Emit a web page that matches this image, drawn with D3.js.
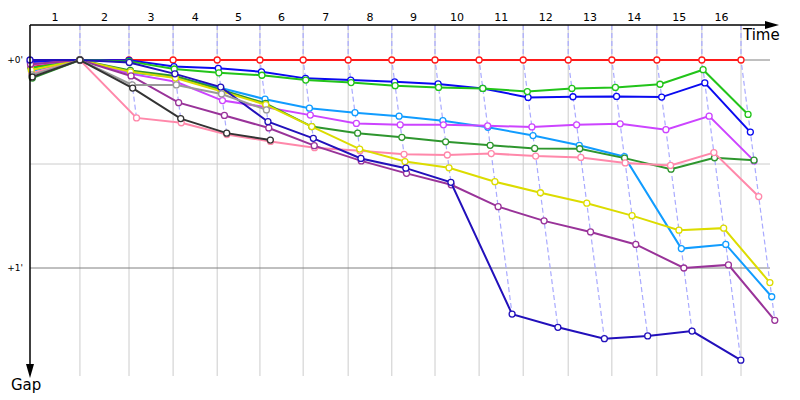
<!DOCTYPE html>
<html>
<head>
<meta charset="utf-8">
<script src="https://cdn.jsdelivr.net/npm/d3@7"></script>
<style>
  body { margin: 0; background: #fff; }
  text { font-family: "DejaVu Sans", Verdana, sans-serif; }
</style>
</head>
<body>
<div id="wrapper"></div>
<script>
// lap labels and gap ticks
const lapLabels = ["1", "2", "3", "4", "5", "6", "7", "8", "9", "10", "11", "12", "13", "14", "15", "16"]
const gapTicks = [0, 60]
const gapTickLabels = ["+0'", "+1'"]
const minorGapTicks = [30]

// leader time (s) at each lap line
const leaderTimes = [0, 111, 220, 318, 416, 511, 607, 707, 804, 900, 998, 1096, 1196, 1293, 1393, 1493, 1580]

// gap to leader (s) at each lap line, per driver
const redGaps = [2.0, 0, 0, 0, 0, 0, 0, 0, 0, 0, 0, 0, 0, 0, 0, 0, 0]
const blueGaps = [0.6, 0, 0.1, 1.9, 2.4, 3.4, 5.3, 5.8, 6.3, 6.9, 8.2, 10.8, 10.6, 10.5, 10.7, 6.6, 20.8]
const limeGaps = [2.3, 0, 0.4, 2.6, 3.7, 4.4, 5.8, 6.5, 7.4, 7.9, 8.2, 9.1, 8.2, 7.9, 7.0, 2.8, 15.7]
const skyGaps = [3.2, 0, 3.7, 4.9, 8.1, 11.3, 13.9, 15.2, 16.2, 17.5, 19.4, 21.8, 24.6, 27.9, 54.4, 53.2, 68.3]
const violetGaps = [1.4, 0, 4.0, 6.3, 11.7, 13.6, 15.9, 18.3, 18.7, 18.7, 19.0, 19.3, 18.7, 18.4, 20.1, 16.2, 29.1]
const darkGreenGaps = [5.2, 0, 3.0, 4.6, 8.6, 12.5, 19.2, 21.1, 22.3, 23.6, 24.6, 25.5, 25.6, 28.3, 31.5, 28.2, 28.9]
const pinkGaps = [3.8, 0, 16.7, 18.1, 21.5, 23.5, 25.3, 26.2, 27.2, 27.4, 27.0, 27.7, 28.1, 29.7, 30.4, 26.7, 39.4]
const yellowGaps = [2.9, 0, 3.4, 5.2, 9.0, 12.9, 19.2, 25.7, 29.3, 31.1, 35.1, 38.3, 41.3, 44.9, 49.1, 48.5, 64.2]
const purpleGaps = [1.2, 0, 4.6, 12.3, 16.0, 19.6, 24.7, 29.1, 32.7, 36.0, 42.3, 46.4, 49.6, 53.2, 60.0, 59.1, 75.1]
const navyGaps = [0, 0, 0.7, 4.0, 7.8, 17.8, 22.6, 28.4, 31.2, 35.3, 73.3, 77.1, 80.4, 79.6, 78.2, 86.6]
const grayGaps = [4.3, 0, 7.2, 7.2, 9.8, 14.4]
const blackGaps = [4.9, 0, 8.1, 16.9, 21.1, 23.1]

const drivers = [
  { color: "#ff1a1a", gaps: redGaps },
  { color: "#0a0af0", gaps: blueGaps },
  { color: "#22c41a", gaps: limeGaps },
  { color: "#119cff", gaps: skyGaps },
  { color: "#cc44ff", gaps: violetGaps },
  { color: "#2e962e", gaps: darkGreenGaps },
  { color: "#ff88aa", gaps: pinkGaps },
  { color: "#dcdc00", gaps: yellowGaps },
  { color: "#993399", gaps: purpleGaps },
  { color: "#2210bb", gaps: navyGaps },
  { color: "#999999", gaps: grayGaps },
  { color: "#333333", gaps: blackGaps },
]

function drawGapChart() {
  let dimensions = {
    width: 800,
    height: 400,
    axisX: 30,
    axisY: 25,
    gridRight: 770,
    gridBottom: 376,
    xArrowTip: 779,
    yArrowTip: 378,
  }

  const wrapper = d3.select("#wrapper")
    .append("svg")
      .attr("width", dimensions.width)
      .attr("height", dimensions.height)

  // scales: time in seconds, gap in seconds
  const xScale = d3.scaleLinear()
    .domain([0, 1580])
    .range([30, 741])

  const yScale = d3.scaleLinear()
    .domain([0, 60])
    .range([60, 268])

  const pointX = (k, gap) => xScale(leaderTimes[k] + gap)

  // vertical lap lines
  wrapper.append("g")
    .selectAll("line")
    .data(leaderTimes.slice(1))
    .join("line")
      .attr("x1", d => xScale(d))
      .attr("x2", d => xScale(d))
      .attr("y1", dimensions.axisY)
      .attr("y2", dimensions.gridBottom)
      .attr("stroke", "#cccccc")
      .attr("stroke-width", 1)

  // horizontal gap lines
  wrapper.append("g")
    .selectAll("line")
    .data(minorGapTicks)
    .join("line")
      .attr("x1", dimensions.axisX)
      .attr("x2", dimensions.gridRight)
      .attr("y1", d => yScale(d))
      .attr("y2", d => yScale(d))
      .attr("stroke", "#cccccc")

  wrapper.append("g")
    .selectAll("line")
    .data(gapTicks)
    .join("line")
      .attr("x1", dimensions.axisX)
      .attr("x2", dimensions.gridRight)
      .attr("y1", d => yScale(d))
      .attr("y2", d => yScale(d))
      .attr("stroke", "#808080")

  // dashed lines linking each lap's crossings
  const lapLine = d3.line().x(d => d[0]).y(d => d[1])
  const lapPaths = d3.range(1, leaderTimes.length).map(k => {
    const gaps = drivers
      .filter(d => d.gaps.length > k)
      .map(d => d.gaps[k])
      .sort((a, b) => a - b)
    const pts = [[xScale(leaderTimes[k]), dimensions.axisY]]
    gaps.forEach(g => pts.push([pointX(k, g), yScale(g)]))
    return pts
  })

  wrapper.append("g")
    .selectAll("path")
    .data(lapPaths)
    .join("path")
      .attr("d", lapLine)
      .attr("fill", "none")
      .attr("stroke", "#a9aaff")
      .attr("stroke-width", 1.2)
      .attr("stroke-dasharray", "5,3")

  // driver lines and points
  const driverLine = d3.line()
    .x((d, i) => pointX(i, d))
    .y(d => yScale(d))

  drivers.forEach(driver => {
    const g = wrapper.append("g")
    g.append("path")
        .attr("d", driverLine(driver.gaps))
        .attr("fill", "none")
        .attr("stroke", driver.color)
        .attr("stroke-width", 2)
    g.selectAll("circle")
      .data(driver.gaps)
      .join("circle")
        .attr("cx", (d, i) => pointX(i, d))
        .attr("cy", d => yScale(d))
        .attr("r", 3)
        .attr("fill", "#fff")
        .attr("stroke", driver.color)
        .attr("stroke-width", 1.3)
  })

  // axes
  wrapper.append("line")
      .attr("x1", dimensions.axisX)
      .attr("x2", dimensions.xArrowTip - 8)
      .attr("y1", dimensions.axisY)
      .attr("y2", dimensions.axisY)
      .attr("stroke", "#000")
      .attr("stroke-width", 1.5)
  wrapper.append("path")
      .attr("d", `M${dimensions.xArrowTip},${dimensions.axisY} l-14,-4 l0,8 z`)
      .attr("fill", "#000")

  wrapper.append("line")
      .attr("x1", dimensions.axisX)
      .attr("x2", dimensions.axisX)
      .attr("y1", dimensions.axisY)
      .attr("y2", dimensions.yArrowTip - 8)
      .attr("stroke", "#000")
      .attr("stroke-width", 1.5)
  wrapper.append("path")
      .attr("d", `M${dimensions.axisX},${dimensions.yArrowTip} l-4,-14 l8,0 z`)
      .attr("fill", "#000")

  // lap labels between lap lines
  wrapper.append("g")
    .selectAll("text")
    .data(lapLabels)
    .join("text")
      .attr("x", (d, i) => (xScale(leaderTimes[i]) + xScale(leaderTimes[i + 1])) / 2)
      .attr("y", 21)
      .attr("text-anchor", "middle")
      .attr("font-size", 11)
      .text(d => d)

  // gap labels
  wrapper.append("g")
    .selectAll("text")
    .data(gapTicks)
    .join("text")
      .attr("x", 23)
      .attr("y", d => yScale(d) + 3)
      .attr("text-anchor", "end")
      .attr("font-size", 9)
      .text((d, i) => gapTickLabels[i])

  wrapper.append("text")
      .attr("x", 743)
      .attr("y", 40)
      .attr("font-size", 15)
      .text("Time")

  wrapper.append("text")
      .attr("x", 11)
      .attr("y", 390)
      .attr("font-size", 15)
      .text("Gap")
}
drawGapChart()
</script>
</body>
</html>
